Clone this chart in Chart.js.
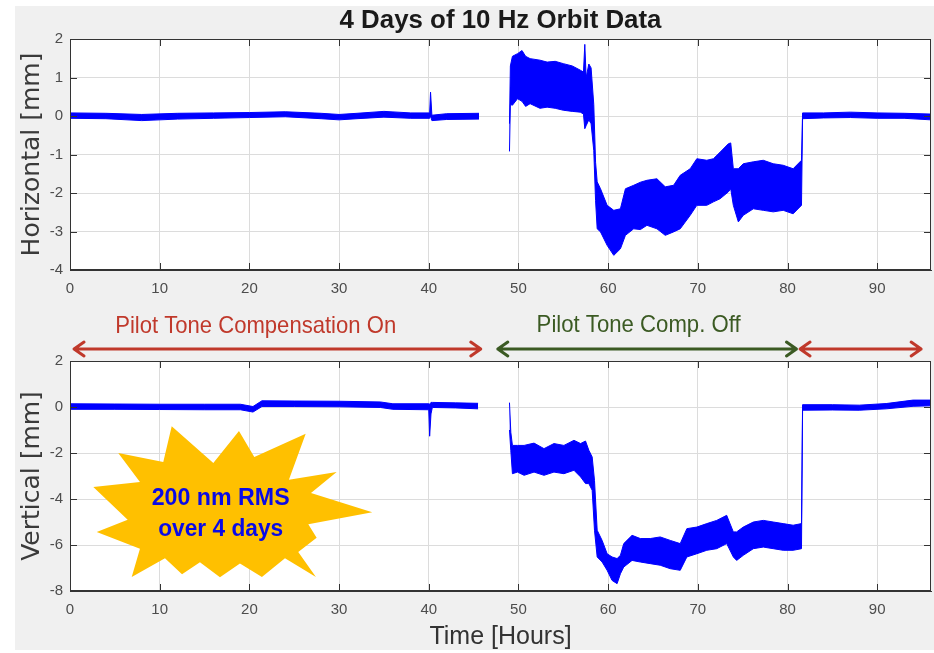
<!DOCTYPE html>
<html lang="en">
<head>
<meta charset="UTF-8">
<title>4 Days of 10 Hz Orbit Data</title>
<script src="https://cdn.jsdelivr.net/npm/chart.js"></script>
<style>
  html, body { margin: 0; padding: 0; background: #fff; }
  #page { position: relative; width: 934px; height: 653px; overflow: hidden; }
  #bg { position: absolute; left: 15px; top: 6px; width: 919px; height: 644px; background: #f0f0f0; }
  canvas { position: absolute; left: 0; }
  #top { top: 0; }
  #bottom { top: 300px; }
</style>
</head>
<body>
<div id="page">
  <div id="bg"></div>
  <canvas id="top" width="934" height="300"></canvas>
  <canvas id="bottom" width="934" height="353"></canvas>
</div>
<script>
// --- data: noise band envelopes (mm) vs time (hours) ---
// null = no data (gap between 45.6 h and 49 h)
const hHours = [0, 4, 8, 12, 16, 20, 24, 28, 30, 32, 35, 38, 40.1, 40.2, 40.35, 42, 45.6, 47.3,
  49.0, 49.1, 49.33, 49.9, 50.4, 50.8, 51.3, 52.4, 53.2, 54.1, 55.0, 56.0, 56.9, 57.25, 57.4, 57.55, 57.85, 58.1, 58.4, 58.6,
  58.78, 59.15, 59.89, 60.63, 61.37, 61.93, 62.85, 63.6, 64.33, 65.44, 66.37, 67.3, 68.04, 69.15, 69.89,
  71.0, 71.74, 72.48, 73.41, 73.67, 73.96, 74.52, 75.07, 76.19, 77.3, 78.41, 79.52, 80.63, 81.56,
  81.68, 84, 87, 90, 93, 96];
const hUpper = [0.08, 0.07, 0.04, 0.07, 0.08, 0.09, 0.11, 0.07, 0.04, 0.07, 0.12, 0.08, 0.08, 0.62, 0.02, 0.06, 0.07, null,
  -0.2, 1.3, 1.55, 1.62, 1.7, 1.55, 1.49, 1.45, 1.4, 1.42, 1.36, 1.3, 1.19, 1.14, 1.86, 1.0, 1.35, 1.25, 0.3, -1.2,
  -1.71, -1.89, -2.32, -2.45, -2.41, -1.89, -1.8, -1.72, -1.67, -1.63, -1.84, -1.8, -1.54, -1.37, -1.11,
  -1.15, -1.11, -0.94, -0.72, -0.7, -1.37, -1.37, -1.24, -1.19, -1.15, -1.24, -1.28, -1.37, -1.15,
  0.08, 0.08, 0.1, 0.08, 0.07, 0.05];
const hLower = [-0.06, -0.07, -0.12, -0.08, -0.06, -0.04, -0.02, -0.07, -0.1, -0.07, -0.03, -0.06, -0.06, 0.0, -0.12, -0.09, -0.08, null,
  -0.92, 0.3, 0.28, 0.45, 0.38, 0.25, 0.32, 0.2, 0.23, 0.2, 0.15, 0.12, 0.1, 0.05, -0.33, -0.25, -0.1, -0.2, -0.9, -2.2,
  -2.93, -3.01, -3.36, -3.62, -3.45, -3.1, -2.93, -2.95, -2.84, -2.93, -3.1, -3.01, -2.93, -2.58, -2.32,
  -2.32, -2.23, -2.15, -1.97, -1.89, -2.32, -2.75, -2.58, -2.41, -2.45, -2.49, -2.45, -2.54, -2.32,
  -0.07, -0.05, -0.04, -0.06, -0.06, -0.1];

const vHours = [0, 5, 10, 15, 19, 20.4, 21.4, 25, 30, 34.6, 36, 40.0, 40.1, 40.25, 40.4, 43, 45.5, 47.3,
  49.0, 49.15, 49.33, 49.89, 50.63, 51.74, 52.85, 53.96, 55.07, 56.19, 56.93, 57.48, 57.85, 58.22, 58.48,
  58.78, 59.33, 59.89, 60.44, 61.0, 61.37, 61.74, 62.67, 63.59, 64.7, 65.81, 66.93, 68.04, 68.78, 69.89,
  71.0, 72.11, 73.22, 73.96, 74.33, 75.07, 76.19, 77.3, 78.41, 79.52, 80.63, 81.56,
  81.68, 85, 88, 91, 94, 96];
const vUpper = [0.14, 0.13, 0.12, 0.12, 0.12, 0.02, 0.27, 0.26, 0.25, 0.22, 0.14, 0.14, 0.12, 0.2, 0.2, 0.18, 0.16, null,
  0.19, -1.1, -1.67, -1.67, -1.67, -1.57, -1.81, -1.59, -1.67, -1.45, -1.59, -1.48, -1.88, -2.17, -3.19,
  -5.36, -5.8, -6.38, -6.52, -6.59, -6.45, -5.94, -5.58, -5.72, -5.72, -5.65, -5.8, -5.94, -5.29, -5.22,
  -5.07, -4.93, -4.71, -5.43, -5.43, -5.22, -5.0, -4.93, -5.0, -5.07, -5.14, -5.07,
  0.1, 0.1, 0.08, 0.15, 0.3, 0.3];
const vLower = [-0.1, -0.1, -0.11, -0.12, -0.12, -0.22, 0.02, 0.02, 0.01, -0.02, -0.1, -0.12, -1.27, -0.3, -0.02, -0.04, -0.08, null,
  -1.0, -1.9, -2.9, -2.83, -2.97, -2.83, -2.97, -2.83, -2.9, -2.75, -3.04, -3.33, -3.33, -3.62, -5.36,
  -6.52, -6.74, -7.1, -7.54, -7.68, -7.25, -6.96, -6.67, -6.74, -6.81, -6.88, -7.03, -7.1, -6.52, -6.38,
  -6.23, -6.16, -5.94, -6.52, -6.67, -6.45, -6.16, -6.09, -6.16, -6.23, -6.23, -6.16,
  -0.14, -0.13, -0.14, -0.08, 0.03, 0.05];

const xTicksStep = 10;
const hRange = [-4, 2], hStep = 1;
const vRange = [-8, 2], vStep = 2;

// annotations
const phases = [
  { from: 0.45, to: 45.8, color: '#c0392b', label: 'Pilot Tone Compensation On', mid: 20.7, width: 281, base: 28 },
  { from: 47.7, to: 81.0, color: '#3b5a23', label: 'Pilot Tone Comp. Off', mid: 63.4, width: 204, base: 29.5 },
  { from: 81.4, to: 94.9, color: '#c0392b' }
];
// starburst outline in (hours, mm) of the lower panel
const burst = [[11.34, -0.84], [15.98, -2.43], [18.84, -1.04], [20.55, -2.17], [26.28, -1.16], [24.41, -3.16],
  [29.73, -2.83], [26.87, -3.74], [33.7, -4.58], [26.57, -5.1], [27.5, -5.68], [25.45, -6.3], [27.42, -7.39],
  [23.97, -6.58], [21.4, -7.39], [18.95, -6.8], [16.72, -7.4], [14.49, -6.75], [12.49, -7.27], [10.59, -6.58],
  [6.88, -7.39], [7.8, -6.16], [2.98, -5.43], [6.43, -4.9], [2.6, -3.48], [7.8, -3.26], [5.38, -2.0], [10.4, -2.39]];

const blue = '#0000ff';

function fitText(ctx, text, cx, baseY, font, width, color) {
  ctx.save();
  ctx.font = font;
  ctx.fillStyle = color;
  const w = ctx.measureText(text).width;
  ctx.translate(cx, baseY);
  ctx.scale(width / w, 1);
  ctx.textAlign = 'center';
  ctx.textBaseline = 'alphabetic';
  ctx.fillText(text, 0, 0);
  ctx.restore();
}

// white plot area, box around it + inward tick marks like the original
const boxPlugin = {
  id: 'box',
  beforeDraw(chart) {
    const { ctx, chartArea: a } = chart;
    ctx.save();
    ctx.fillStyle = '#fff';
    ctx.fillRect(a.left, a.top, a.right - a.left, a.bottom - a.top);
    ctx.restore();
  },
  afterDraw(chart) {
    const { ctx, chartArea: a, scales } = chart;
    ctx.save();
    ctx.strokeStyle = '#333';
    ctx.lineWidth = 1;
    ctx.strokeRect(a.left + 0.5, a.top + 0.5, a.right - a.left - 1, a.bottom - a.top - 1);
    ctx.beginPath();
    scales.x.ticks.forEach(t => {
      const px = Math.round(scales.x.getPixelForValue(t.value)) + 0.5;
      ctx.moveTo(px, a.bottom); ctx.lineTo(px, a.bottom - 7);
      ctx.moveTo(px, a.top); ctx.lineTo(px, a.top + 7);
    });
    scales.y.ticks.forEach(t => {
      const py = Math.round(scales.y.getPixelForValue(t.value)) + 0.5;
      ctx.moveTo(a.left, py); ctx.lineTo(a.left + 7, py);
      ctx.moveTo(a.right, py); ctx.lineTo(a.right - 7, py);
    });
    ctx.stroke();
    ctx.restore();
  }
};

function panel(canvasId, hours, upper, lower, opt) {
  const up = hours.map((h, i) => ({ x: h, y: upper[i] }));
  const lo = hours.map((h, i) => ({ x: h, y: lower[i] }));
  return new Chart(document.getElementById(canvasId), {
    type: 'line',
    data: {
      datasets: [
        { data: up, borderColor: blue, borderWidth: 1, pointRadius: 0, fill: false, tension: 0 },
        { data: lo, borderColor: blue, borderWidth: 1, pointRadius: 0, fill: '-1', backgroundColor: blue, tension: 0 }
      ]
    },
    options: {
      responsive: false,
      animation: false,
      events: [],
      layout: { padding: { top: opt.padTop, right: 3, left: 0, bottom: 0 } },
      plugins: { legend: { display: false }, tooltip: { enabled: false } },
      scales: {
        x: {
          type: 'linear', min: 0, max: 96,
          ticks: { stepSize: xTicksStep, includeBounds: false, padding: 10, maxRotation: 0, color: '#4d4d4d',
                   font: { family: 'Liberation Sans, Arial, sans-serif', size: 15 } },
          grid: { color: '#dcdcdc', drawTicks: false },
          border: { color: '#333' },
          title: opt.xTitle ? { display: true, text: opt.xTitle, color: '#333',
                   font: { family: 'Liberation Sans, Arial, sans-serif', size: 25 }, padding: { top: 0, bottom: 1 } }
                 : { display: false },
          afterFit(s) { s.height = opt.xHeight; }
        },
        y: {
          min: opt.range[0], max: opt.range[1],
          ticks: { stepSize: opt.step, padding: 7, color: '#4d4d4d',
                   font: { family: 'Liberation Sans, Arial, sans-serif', size: 15 } },
          grid: { color: '#dcdcdc', drawTicks: false },
          border: { color: '#333' },
          title: { display: true, text: opt.yTitle, color: '#3a3a3a',
                   font: { family: 'DejaVu Sans, sans-serif', size: 25 }, padding: { top: 17, bottom: 0 } },
          afterFit(s) { s.width = 70; }
        }
      }
    },
    plugins: [boxPlugin].concat(opt.plugins || [])
  });
}

const titlePlugin = {
  id: 'mainTitle',
  afterDraw(chart) {
    const a = chart.chartArea;
    fitText(chart.ctx, '4 Days of 10 Hz Orbit Data', (a.left + a.right) / 2, 28,
      'bold 26px "Liberation Sans", Arial, sans-serif', 322, '#1a1a1a');
  }
};

const notesPlugin = {
  id: 'notes',
  afterDatasetsDraw(chart) {
    const { ctx, chartArea: a, scales: { x, y } } = chart;
    // starburst
    ctx.save();
    ctx.beginPath();
    burst.forEach(([h, v], i) => {
      const px = x.getPixelForValue(h), py = y.getPixelForValue(v);
      if (i === 0) ctx.moveTo(px, py); else ctx.lineTo(px, py);
    });
    ctx.closePath();
    ctx.fillStyle = '#ffc000';
    ctx.fill();
    ctx.restore();
    const cx = x.getPixelForValue(16.8);
    fitText(ctx, '200 nm RMS', cx, y.getPixelForValue(-4.27), 'bold 23px "Liberation Sans", Arial, sans-serif', 138, '#0a0ae6');
    fitText(ctx, 'over 4 days', cx, y.getPixelForValue(-5.62), 'bold 23px "Liberation Sans", Arial, sans-serif', 125, '#0a0ae6');

    // phase arrows above the lower panel
    const ay = a.top - 12;
    phases.forEach(p => {
      const x1 = x.getPixelForValue(p.from), x2 = x.getPixelForValue(p.to);
      ctx.save();
      ctx.strokeStyle = p.color;
      ctx.lineWidth = 3;
      ctx.lineCap = 'round';
      ctx.lineJoin = 'round';
      ctx.beginPath();
      ctx.moveTo(x1, ay); ctx.lineTo(x2, ay);
      ctx.moveTo(x1 + 10, ay - 7); ctx.lineTo(x1, ay); ctx.lineTo(x1 + 10, ay + 7);
      ctx.moveTo(x2 - 10, ay - 7); ctx.lineTo(x2, ay); ctx.lineTo(x2 - 10, ay + 7);
      ctx.stroke();
      ctx.restore();
      if (p.label) {
        fitText(ctx, p.label, x.getPixelForValue(p.mid), a.top - p.base,
          '24px "Liberation Sans", Arial, sans-serif', p.width, p.color);
      }
    });
  }
};

panel('top', hHours, hUpper, hLower, {
  padTop: 39, xHeight: 30, range: hRange, step: hStep, yTitle: 'Horizontal [mm]', plugins: [titlePlugin]
});
panel('bottom', vHours, vUpper, vLower, {
  padTop: 61, xHeight: 62, range: vRange, step: vStep, yTitle: 'Vertical [mm]', xTitle: 'Time [Hours]', plugins: [notesPlugin]
});
</script>
</body>
</html>
